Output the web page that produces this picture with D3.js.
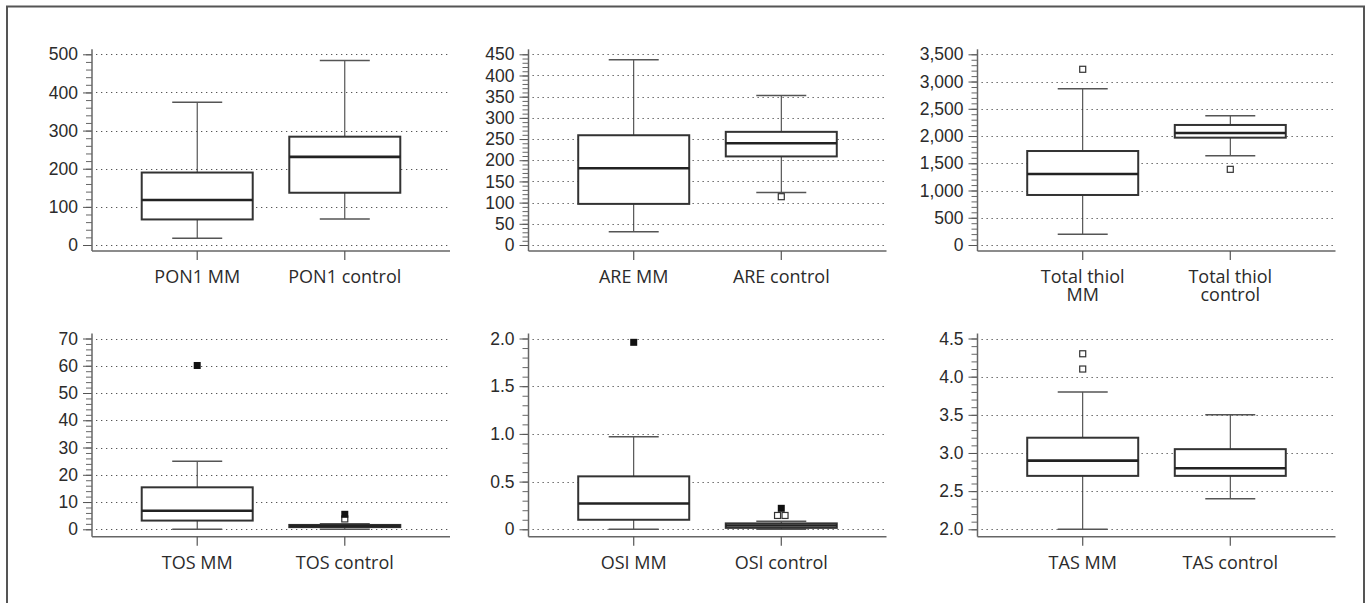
<!DOCTYPE html>
<html>
<head>
<meta charset="utf-8">
<script src="https://cdn.jsdelivr.net/npm/d3@7"></script>
<style>
  body { margin: 0; background: #fff; }
  svg { display: block; font-family: "Open Sans", "Noto Sans", sans-serif; }
</style>
</head>
<body>
<script>
// ---- data ----
var groupLabels = [
	["PON1 MM", "PON1 control"],
	["ARE MM", "ARE control"],
	["Total thiol\nMM", "Total thiol\ncontrol"],
	["TOS MM", "TOS control"],
	["OSI MM", "OSI control"],
	["TAS MM", "TAS control"]
];
var whiskerLow  = [[18, 68], [31, 124], [196, 1640], [0, 0], [0, 0], [2.0, 2.4]];
var q1          = [[67, 137], [97, 209], [918, 1970], [3.2, 0.8], [0.1, 0.015], [2.7, 2.7]];
var median      = [[118, 231], [181, 240], [1303, 2056], [6.8, 1.2], [0.27, 0.04], [2.9, 2.8]];
var q3          = [[190, 284], [259, 267], [1725, 2203], [15.4, 1.6], [0.555, 0.062], [3.2, 3.05]];
var whiskerHigh = [[374, 484], [437, 353], [2869, 2374], [25, 2.0], [0.97, 0.085], [3.8, 3.5]];
// outliers: open squares and filled (extreme) squares
var outliersOpen   = [[[], []], [[], [114]], [[3225], [1389]], [[], [3.8]], [[], [0.145, 0.145]], [[4.3, 4.1], []]];
var outliersFilled = [[[], []], [[], []], [[], []], [[60.1], [5.5]], [[1.96], [0.22]], [[], []]];
// y axes
var yDomains   = [[0, 500], [0, 450], [0, 3500], [0, 70], [0, 2], [2, 4.5]];
var majorSteps = [100, 50, 500, 10, 0.5, 0.5];
var minorSteps = [20, 10, 100, 2, 0.1, 0.1];
var tickFormats = [
	d3.format("d"),
	d3.format("d"),
	d3.format(","),
	d3.format("d"),
	function(d){ return d === 0 ? "0" : d3.format(".1f")(d); },
	d3.format(".1f")
];

// ---- layout ----
var width = 1370, height = 603;
var colX = [92, 528.5, 977.5],
		plotWidth = 358,
		rowZero = [245, 529.3],
		rowTop = [54.3, 338.5],
		rowBase = [251, 536.7],
		boxWidth = 111,
		capWidth = 50,
		textColor = "#2b2b2b",
		lineColor = "#333";

var svg = d3.select("body").append("svg")
	.attr("width", width)
	.attr("height", height);

// outer frame (bottom edge runs off the picture)
svg.append("path")
	.attr("d", "M7,610 V6.5 H1364 V610")
	.attr("fill", "none")
	.attr("stroke", "#555")
	.attr("stroke-width", 2);

function range(lo, hi, step){
	var out = [];
	var n = Math.round((hi - lo) / step);
	for(var i = 0; i <= n; i++) out.push(+(lo + i*step).toFixed(4));
	return out;
}

for(var p = 0; p < 6; p++){
	drawPanel(p);
}

function drawPanel(p){
	var col = p % 3, row = Math.floor(p / 3);
	var x0 = colX[col], base = rowBase[row];
	var g = svg.append("g");

	var y = d3.scaleLinear()
		.domain(yDomains[p])
		.range([rowZero[row], rowTop[row]]);
	var x = d3.scalePoint()
		.domain([0, 1])
		.range([x0, x0 + plotWidth])
		.padding(0.713);

	var majors = range(yDomains[p][0], yDomains[p][1], majorSteps[p]);
	var minors = range(yDomains[p][0], yDomains[p][1], minorSteps[p]);

	// dotted grid
	g.selectAll(".grid")
		.data(majors)
		.enter()
		.append("line")
		.attr("x1", x0 + 4)
		.attr("x2", x0 + plotWidth)
		.attr("y1", function(d){ return Math.round(y(d)) + 0.5; })
		.attr("y2", function(d){ return Math.round(y(d)) + 0.5; })
		.attr("stroke", "#555")
		.attr("stroke-width", 1)
		.attr("stroke-dasharray", "1.3,3.7");

	// minor ticks
	var minorAxis = d3.axisLeft(y).tickValues(minors).tickSize(6).tickFormat("");
	var gm = g.append("g").attr("transform", "translate(" + x0 + ",0)").call(minorAxis);
	gm.select(".domain").remove();
	gm.selectAll("line").attr("stroke", "#666");

	// major ticks and labels
	var majorAxis = d3.axisLeft(y).tickValues(majors).tickSize(9).tickPadding(5).tickFormat(tickFormats[p]);
	var ga = g.append("g").attr("transform", "translate(" + x0 + ",0)").call(majorAxis);
	ga.select(".domain").remove();
	ga.selectAll("line").attr("stroke", "#555");
	ga.selectAll("text")
		.attr("fill", textColor)
		.style("font-size", "17.5px");

	// axis lines
	g.append("line")
		.attr("x1", x0).attr("x2", x0)
		.attr("y1", rowTop[row] - 5).attr("y2", base)
		.attr("stroke", "#666").attr("stroke-width", 1.5);
	g.append("line")
		.attr("x1", x0).attr("x2", x0 + plotWidth)
		.attr("y1", base).attr("y2", base)
		.attr("stroke", "#666").attr("stroke-width", 1.5);

	for(var k = 0; k < 2; k++){
		var cx = x(k);

		// category tick + label
		g.append("line")
			.attr("x1", cx).attr("x2", cx)
			.attr("y1", base).attr("y2", base + 9)
			.attr("stroke", "#555").attr("stroke-width", 1.2);
		groupLabels[p][k].split("\n").forEach(function(s, i){
			g.append("text")
				.attr("x", cx)
				.attr("y", base + 32 + i*18)
				.attr("text-anchor", "middle")
				.attr("fill", textColor)
				.style("font-size", "18px")
				.text(s);
		});

		// whisker stem
		g.append("line")
			.attr("x1", cx).attr("x2", cx)
			.attr("y1", y(whiskerLow[p][k])).attr("y2", y(whiskerHigh[p][k]))
			.attr("stroke", lineColor).attr("stroke-width", 1);
		// caps
		[whiskerLow[p][k], whiskerHigh[p][k]].forEach(function(v){
			g.append("line")
				.attr("x1", cx - capWidth/2).attr("x2", cx + capWidth/2)
				.attr("y1", y(v)).attr("y2", y(v))
				.attr("stroke", "#555").attr("stroke-width", 1.5);
		});
		// box
		g.append("rect")
			.attr("x", cx - boxWidth/2)
			.attr("y", y(q3[p][k]))
			.attr("width", boxWidth)
			.attr("height", Math.max(1, y(q1[p][k]) - y(q3[p][k])))
			.attr("fill", "#fff")
			.attr("stroke", lineColor)
			.attr("stroke-width", 2);
		// median
		g.append("line")
			.attr("x1", cx - boxWidth/2).attr("x2", cx + boxWidth/2)
			.attr("y1", y(median[p][k])).attr("y2", y(median[p][k]))
			.attr("stroke", "#222").attr("stroke-width", 2.6);

		// outliers; repeated values sit side by side
		var open = outliersOpen[p][k];
		open.forEach(function(v, i){
			var same = open.filter(function(w){ return w === v; }).length;
			var idx = open.slice(0, i).filter(function(w){ return w === v; }).length;
			var dx = same > 1 ? (idx - (same - 1)/2) * 7.5 : 0;
			g.append("rect")
				.attr("x", cx + dx - 3).attr("y", y(v) - 3)
				.attr("width", 6).attr("height", 6)
				.attr("fill", "#fff")
				.attr("stroke", lineColor).attr("stroke-width", 1.2);
		});
		outliersFilled[p][k].forEach(function(v){
			g.append("rect")
				.attr("x", cx - 3.5).attr("y", y(v) - 3.5)
				.attr("width", 7).attr("height", 7)
				.attr("fill", "#111");
		});
	}
}
</script>
</body>
</html>
